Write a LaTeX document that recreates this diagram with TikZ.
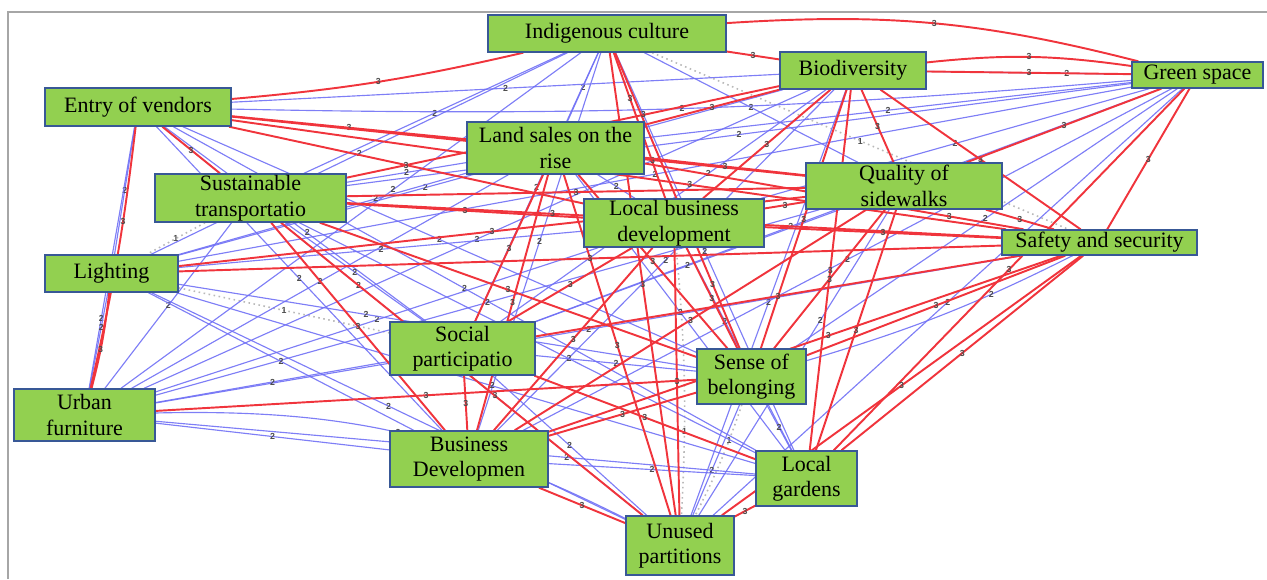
\documentclass[tikz,border=0pt]{standalone}
\usepackage{fontspec}
\setmainfont{Liberation Serif}
\newfontfamily\lblfont{Liberation Sans}
\usetikzlibrary{positioning}
\pgfdeclarelayer{background}
\pgfsetlayers{background,main}

\definecolor{edgered}{RGB}{240,52,60}
\definecolor{edgeblue}{RGB}{112,112,245}
\definecolor{nodegreen}{RGB}{146,208,80}
\definecolor{nodeborder}{RGB}{56,88,150}

\begin{document}
\begin{tikzpicture}[
		x=0.02cm, y=-0.02cm,
		factor/.style={draw=nodeborder, fill=nodegreen, line width=0.8pt, inner sep=0pt, align=center, font=\fontsize{12.5}{14.5}\selectfont},
		wthree/.style={draw=edgered, line width=1.1pt},
		wtwo/.style={draw=edgeblue, line width=0.65pt, draw opacity=0.9},
		wone/.style={draw=gray!55, dotted, line width=0.9pt},
		wlbl/.style={font=\lblfont\bfseries\fontsize{5}{5}\selectfont, text=black!70, inner sep=0.5pt}
	]
	\useasboundingbox (0,0) rectangle (1267,579);
	\draw[gray!70, line width=1pt] (8,579) -- (8,12) -- (1267,12);

	% factors
	\node[factor, minimum width=4.76cm, minimum height=0.74cm] (ic) at (607,33.5) {Indigenous culture};
	\node[factor, minimum width=2.92cm, minimum height=0.74cm] (bio) at (853,70.5) {Biodiversity};
	\node[factor, minimum width=2.62cm, minimum height=0.52cm] (gs) at (1197.5,75) {Green space};
	\node[factor, minimum width=3.72cm, minimum height=0.76cm] (ev) at (138,107) {Entry of vendors};
	\node[factor, minimum width=3.54cm, minimum height=1.04cm] (ls) at (555.5,148) {Land sales on the\\rise};
	\node[factor, minimum width=3.82cm, minimum height=0.96cm] (st) at (250.5,198) {Sustainable\\transportatio};
	\node[factor, minimum width=3.92cm, minimum height=0.92cm] (qs) at (904,186) {Quality of\\sidewalks};
	\node[factor, minimum width=3.6cm, minimum height=0.96cm] (lb) at (674,223) {Local business\\development};
	\node[factor, minimum width=3.9cm, minimum height=0.5cm] (ss) at (1099.5,242.5) {Safety and security};
	\node[factor, minimum width=2.66cm, minimum height=0.74cm] (li) at (111.5,273.5) {Lighting};
	\node[factor, minimum width=2.9cm, minimum height=1.06cm] (sp) at (462.5,348.5) {Social\\participatio};
	\node[factor, minimum width=2.18cm, minimum height=1.1cm] (sb) at (751.5,376.5) {Sense of\\belonging};
	\node[factor, minimum width=2.82cm, minimum height=1.04cm] (uf) at (84.5,415) {Urban\\furniture};
	\node[factor, minimum width=3.16cm, minimum height=1.12cm] (bd) at (469,459) {Business\\Developmen};
	\node[factor, minimum width=2.02cm, minimum height=1.1cm] (lg) at (806.5,478.5) {Local\\gardens};
	\node[factor, minimum width=2.16cm, minimum height=1.18cm] (up) at (680,545.5) {Unused\\partitions};

	\begin{pgfonlayer}{background}
		% weight 1
		\foreach \a/\b/\bd/\p in {ic/ss/0/0.5, st/li/0/0.5, li/sp/0/0.5, sb/up/4/0.3, lb/up/4/0.7}
			\draw[wone] (\a) to[bend left=\bd] node[wlbl, pos=\p]{1} (\b);
		% weight 2
		\foreach \a/\b/\bd/\p in {ic/ls/0/0.5, ic/st/0/0.5, ic/qs/0/0.5, ic/li/0/0.5, ic/sp/0/0.5, ic/uf/0/0.4, ic/bd/0/0.5, ic/lg/0/0.5,
				bio/ev/0/0.5, bio/li/0/0.6, bio/sp/0/0.35, bio/uf/0/0.5, bio/bd/0/0.5, bio/up/0/0.5,
				gs/ev/3/0.5, gs/ls/0/0.5, gs/st/0/0.5, gs/lb/0/0.5, gs/li/0/0.5, gs/sp/0/0.6, gs/sb/0/0.5, gs/bd/0/0.5, gs/up/0/0.5, gs/bio/0/0.3,
				ev/li/0/0.5, ev/sp/0/0.55, ev/sb/0/0.5, ev/uf/0/0.75, ev/bd/0/0.5, ev/lg/0/0.5, ev/up/0/0.4,
				ls/st/0/0.5, ls/lb/0/0.5, ls/li/0/0.3, ls/uf/0/0.5, ls/lg/0/0.5,
				st/sp/0/0.5, st/uf/0/0.5, st/lg/0/0.6,
				qs/sp/0/0.5, qs/uf/0/0.5, qs/up/0/0.35,
				lb/li/0/0.5, lb/uf/0/0.5, lb/lg/0/0.35,
				ss/uf/0/0.5, li/sb/0/0.35, li/uf/0/0.35, li/bd/0/0.5, li/lg/0/0.55, li/up/0/0.5,
				sp/sb/0/0.5, sp/uf/0/0.5, sp/up/0/0.5,
				sb/lg/0/0.5, sb/up/0/0.6, uf/bd/0/0.5, uf/lg/0/0.7, uf/up/14/0.5, bd/lg/0/0.5, ss/sb/5/0.3}
			\draw[wtwo] (\a) to[bend left=\bd] node[wlbl, pos=\p]{2} (\b);
		% weight 3
		\foreach \a/\b/\bd/\p in {ic/bio/0/0.5, ic/gs/9/0.5, ic/ev/4/0.5, ic/lb/0/0.3, ic/sb/0/0.8, ic/up/0/0.5,
				bio/gs/0/0.5, bio/gs/7/0.5, bio/ls/0/0.5, bio/st/0/0.3, bio/qs/0/0.5, bio/lb/0/0.5, bio/ss/0/0.5, bio/sb/0/0.5, bio/lg/0/0.5,
				gs/qs/0/0.5, gs/ss/0/0.5, gs/lg/0/0.5,
				ev/ls/0/0.5, ev/st/0/0.5, ev/qs/0/0.75, ev/lb/0/0.5, ev/ss/0/0.6, ev/uf/3/0.35,
				ls/qs/0/0.5, ls/ss/0/0.82, ls/sp/0/0.5, ls/sb/0/0.5, ls/bd/0/0.5, ls/up/0/0.5,
				st/qs/0/0.5, st/lb/0/0.5, st/ss/0/0.3, st/sb/0/0.5, st/bd/0/0.5, st/up/0/0.6,
				qs/lb/0/0.5, qs/ss/0/0.5, qs/li/0/0.5, qs/sb/0/0.5, qs/bd/0/0.5, qs/lg/0/0.5,
				lb/ss/0/0.5, lb/sp/0/0.5, lb/sb/0/0.5, lb/bd/0/0.5, lb/up/0/0.5,
				ss/li/0/0.5, ss/sp/0/0.5, ss/sb/0/0.5, ss/bd/0/0.45, ss/lg/0/0.5, ss/up/0/0.5,
				li/uf/4/0.6, sp/bd/0/0.5, sp/lg/0/0.5, sb/uf/0/0.5, sb/bd/0/0.5, bd/up/0/0.5, lg/up/0/0.5}
			\draw[wthree] (\a) to[bend left=\bd] node[wlbl, pos=\p]{3} (\b);
	\end{pgfonlayer}
\end{tikzpicture}
\end{document}
